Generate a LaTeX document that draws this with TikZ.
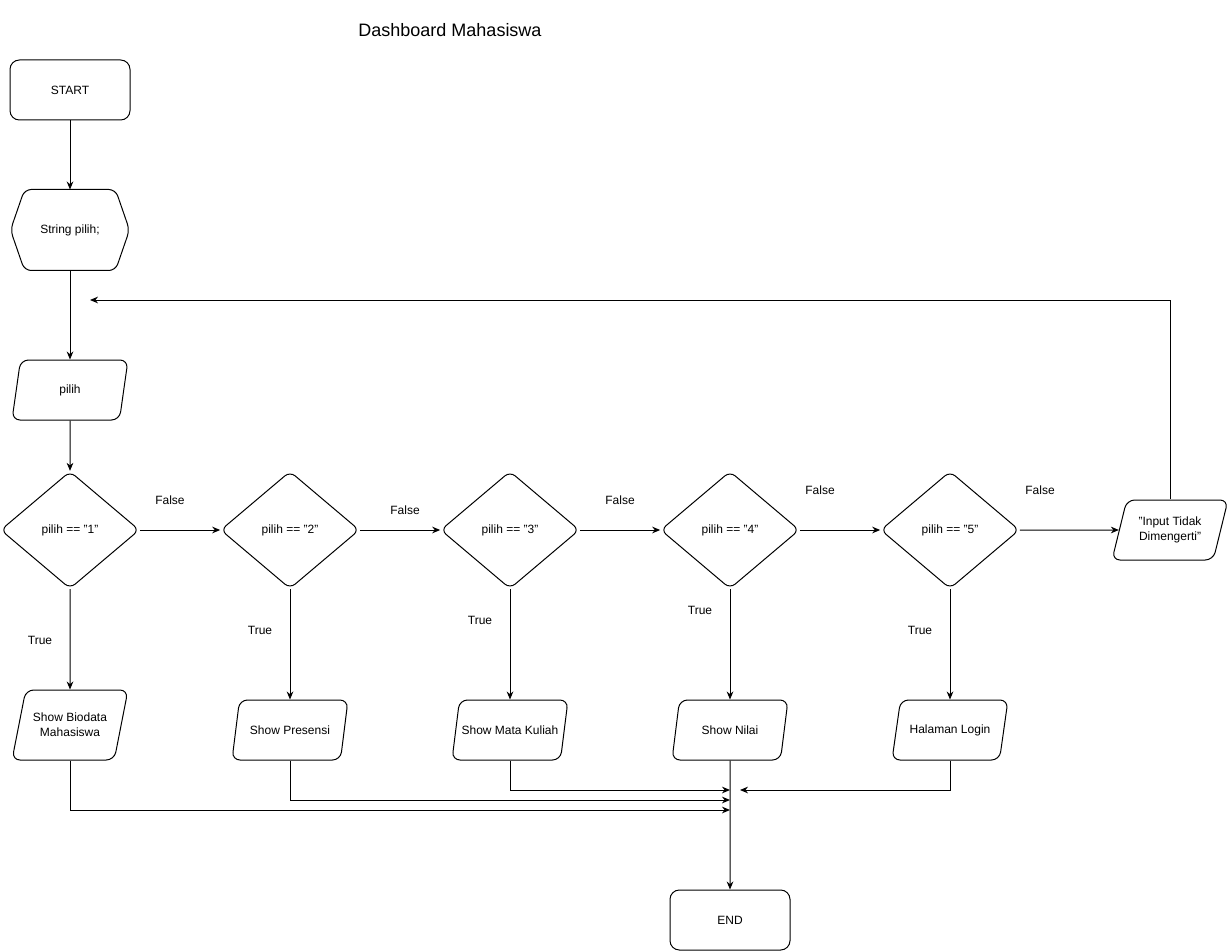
\documentclass[tikz,border=0pt]{standalone}
\usepackage{fontspec}
\setmainfont{Liberation Sans}
\usetikzlibrary{shapes.geometric,arrows.meta,positioning}
\tikzset{
  every picture/.style={line width=0.75pt},
  fterm/.style={draw, rounded corners=7pt, minimum width=90pt, minimum height=45pt, font=\fontsize{9}{11}\selectfont},
  fprep/.style={minimum width=88.5pt, minimum height=60pt, inner sep=0pt, font=\fontsize{9}{11}\selectfont},
  fio/.style={draw, trapezium, trapezium left angle=67, trapezium right angle=113, trapezium stretches body,
              rounded corners=6pt, minimum width=87pt, minimum height=45pt, inner xsep=0pt, align=center,
              font=\fontsize{9}{11}\selectfont},
  fdec/.style={draw, diamond, rounded corners=5pt, minimum width=104pt, minimum height=88pt, inner sep=0pt,
               font=\fontsize{9}{11}\selectfont},
  farr/.style={-{Stealth[length=6pt,width=5pt]}},
  flabel/.style={font=\fontsize{9}{11}\selectfont},
}

\begin{document}
\begin{tikzpicture}[x=0.75pt, y=-0.75pt]
  \useasboundingbox (0,0) rectangle (1231,952);
  \node[font=\fontsize{13.5}{16}\selectfont] (title) at (450,30) {Dashboard Mahasiswa};

  % main column
  \node[fterm] (start) at (70,90) {START};
  \node[fprep] (decl) at (70,230) {String pilih;};
  \draw[rounded corners=5pt] (decl.north) -- ([xshift=-10.5pt]decl.north east) -- (decl.east)
    -- ([xshift=-10.5pt]decl.south east) -- ([xshift=10.5pt]decl.south west) -- (decl.west)
    -- ([xshift=10.5pt]decl.north west) -- cycle;
  \node[fio] (inp) at (70,390) {pilih};
  \draw[farr] (start) -- (decl);
  \draw[farr] (decl) -- (inp);

  % decisions
  \node[fdec] (d1) at (70,530) {pilih == "1"};
  \node[fdec] (d2) at (290,530) {pilih == "2"};
  \node[fdec] (d3) at (510,530) {pilih == "3"};
  \node[fdec] (d4) at (730,530) {pilih == "4"};
  \node[fdec] (d5) at (950,530) {pilih == "5"};
  \node[fio] (err) at (1170,530) {"Input Tidak\\Dimengerti"};
  \draw[farr] (inp) -- (d1);
  \draw[farr] (d1) -- (d2);
  \draw[farr] (d2) -- (d3);
  \draw[farr] (d3) -- (d4);
  \draw[farr] (d4) -- (d5);
  \draw[farr] (d5) -- (err);
  \node[flabel] (f1) at (170,500) {False};
  \node[flabel] (f2) at (405,510) {False};
  \node[flabel] (f3) at (620,500) {False};
  \node[flabel] (f4) at (820,490) {False};
  \node[flabel] (f5) at (1040,490) {False};

  % back to input
  \coordinate (back) at (90,300);
  \draw[farr] (err.north) |- (back);

  % outputs
  \node[fio, minimum height=52.5pt] (out1) at (70,725) {Show Biodata\\Mahasiswa};
  \node[fio] (out2) at (290,730) {Show Presensi};
  \node[fio] (out3) at (510,730) {Show Mata Kuliah};
  \node[fio] (out4) at (730,730) {Show Nilai};
  \node[fio] (out5) at (950,730) {Halaman Login};
  \foreach \i in {1,...,5}
    \draw[farr] (d\i) -- (out\i);
  \node[flabel] (t1) at (40,640) {True};
  \node[flabel] (t2) at (260,630) {True};
  \node[flabel] (t3) at (480,620) {True};
  \node[flabel] (t4) at (700,610) {True};
  \node[flabel] (t5) at (920,630) {True};

  % merge
  \node[fterm] (stop) at (730,920) {END};
  \coordinate (m1) at (730,810);
  \coordinate (m2) at (730,800);
  \coordinate (m3) at (730,790);
  \coordinate (m5) at (740,790);
  \draw[farr] (out1.south) |- (m1);
  \draw[farr] (out2.south) |- (m2);
  \draw[farr] (out3.south) |- (m3);
  \draw[farr] (out5.south) |- (m5);
  \draw[farr] (out4) -- (stop);
\end{tikzpicture}
\end{document}
